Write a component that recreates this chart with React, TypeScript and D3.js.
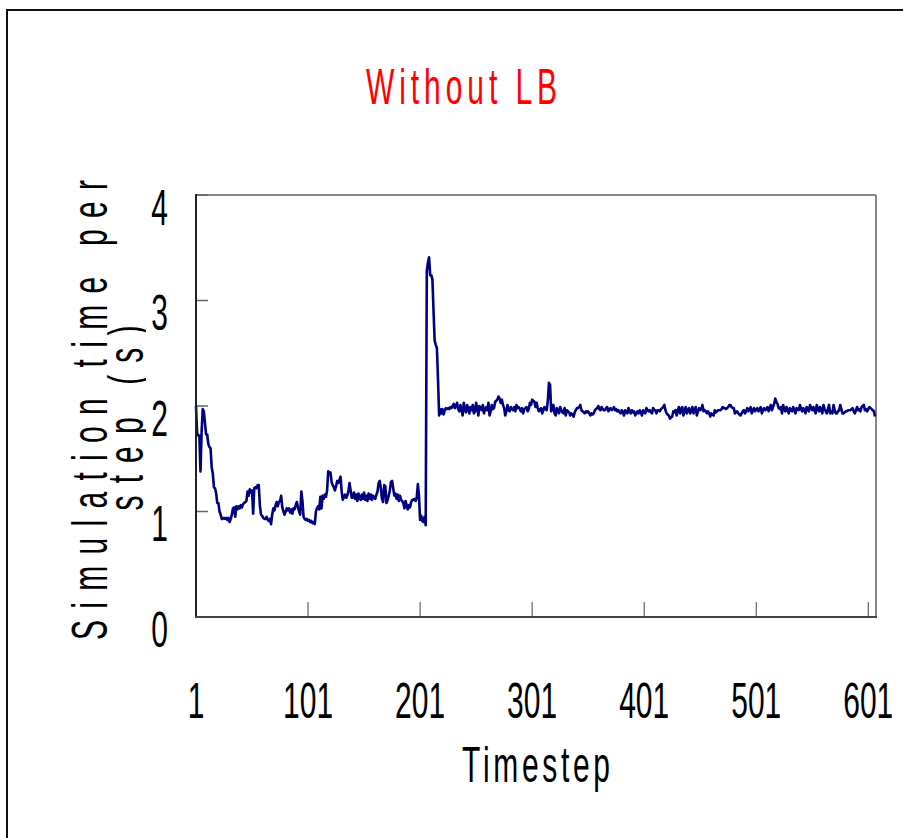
import React from "react";
import * as d3 from "d3";

// Simulation time per step (s), one value per timestep 1..607
const simTime: number[] = [
  2.00,1.74,1.72,1.72,1.38,1.75,1.97,1.95,1.84,1.73,
  1.73,1.64,1.61,1.60,1.42,1.36,1.23,1.22,1.17,1.08,
  1.08,1.00,0.97,0.93,0.93,0.94,0.93,0.94,0.92,0.94,
  0.90,0.93,0.97,1.03,1.04,0.95,1.05,1.02,1.05,1.03,
  1.06,1.04,1.07,1.08,1.09,1.10,1.19,1.15,1.21,1.18,
  1.20,0.98,1.22,1.23,1.22,1.25,1.25,1.06,0.97,0.96,
  0.94,0.93,0.93,0.95,0.92,0.91,0.93,0.88,0.97,1.03,
  1.01,1.06,1.09,1.05,1.09,1.10,1.15,1.04,1.00,0.97,
  1.00,1.03,1.01,1.03,0.99,1.02,0.98,1.03,1.02,1.06,
  1.09,1.04,1.00,0.97,1.19,1.10,0.95,0.93,0.92,0.93,
  0.91,0.92,0.90,0.91,0.89,0.90,0.88,1.00,1.03,1.05,
  1.02,1.14,1.03,1.15,1.12,1.16,1.14,1.20,1.38,1.36,
  1.37,1.28,1.25,1.23,1.20,1.24,1.29,1.27,1.30,1.33,
  1.19,1.11,1.14,1.16,1.13,1.15,1.19,1.27,1.20,1.13,
  1.13,1.18,1.12,1.16,1.10,1.17,1.13,1.11,1.16,1.12,
  1.18,1.11,1.15,1.10,1.17,1.12,1.16,1.11,1.15,1.13,
  1.12,1.16,1.19,1.27,1.29,1.22,1.12,1.09,1.25,1.24,
  1.08,1.11,1.15,1.20,1.28,1.29,1.22,1.15,1.17,1.12,
  1.16,1.10,1.15,1.11,1.10,1.08,1.03,1.10,1.06,1.02,
  1.06,1.04,1.09,1.11,1.11,1.12,1.10,1.13,1.26,1.15,
  0.92,0.96,0.91,0.90,0.95,0.87,3.28,3.36,3.41,3.24,
  3.24,3.20,2.90,2.62,2.58,2.55,2.25,1.91,1.97,1.93,
  1.97,1.92,1.96,1.98,1.97,1.98,1.97,1.99,1.98,2.00,
  2.02,1.98,2.00,2.03,1.97,1.95,2.01,1.96,1.91,2.03,
  1.97,1.94,2.01,1.98,1.93,1.99,1.96,2.01,1.93,1.95,
  2.03,1.98,1.91,2.00,1.98,1.96,2.01,1.93,1.97,1.99,
  1.96,2.03,1.91,1.95,2.01,1.97,1.98,2.04,2.05,2.06,
  2.09,2.07,2.03,2.06,2.01,1.98,1.91,1.95,2.01,1.96,
  1.95,1.99,1.97,1.96,1.99,1.95,2.01,1.98,1.99,1.97,
  1.95,1.98,1.93,1.97,1.98,1.99,1.95,1.97,2.03,2.01,
  2.06,2.05,2.04,1.99,2.03,1.98,1.95,1.97,1.98,1.93,
  1.96,1.99,1.97,1.96,2.05,2.22,2.20,1.95,1.97,2.01,
  1.93,1.91,1.98,1.96,1.93,1.99,1.96,1.94,1.93,1.98,
  1.91,1.96,1.95,1.94,1.91,1.93,1.92,1.90,1.94,1.96,
  1.98,1.98,1.99,2.01,1.96,1.95,1.94,1.93,1.95,1.94,
  1.95,1.93,1.91,1.93,1.92,1.93,1.96,1.97,1.98,2.00,
  1.97,1.96,1.99,1.97,1.96,1.96,1.98,1.99,1.95,1.97,
  1.98,1.96,1.97,1.99,1.96,1.97,1.95,1.96,1.94,1.93,
  1.96,1.94,1.91,1.96,1.94,1.93,1.98,1.95,1.93,1.96,
  1.94,1.95,1.91,1.93,1.95,1.93,1.96,1.94,1.91,1.96,
  1.94,1.93,1.98,1.96,1.95,1.96,1.94,1.93,1.98,1.96,
  1.96,1.93,1.96,1.96,1.95,1.97,1.98,1.99,2.01,1.96,
  1.93,1.92,1.91,1.88,1.89,1.90,1.95,1.94,1.96,1.91,
  1.96,1.99,1.93,1.97,1.99,1.91,1.95,1.99,1.93,1.96,
  1.98,1.93,1.95,1.99,1.93,1.96,1.99,1.91,1.95,1.98,
  1.96,1.97,2.01,1.95,1.96,1.95,1.93,1.95,1.93,1.90,
  1.93,1.92,1.91,1.96,1.94,1.95,1.96,1.96,1.96,1.97,
  1.99,1.98,1.98,1.97,1.98,1.99,2.01,2.01,1.99,1.98,
  1.98,1.93,1.94,1.95,1.93,1.92,1.91,1.93,1.95,1.96,
  1.93,1.95,1.98,1.95,1.97,1.99,1.93,1.96,1.98,1.95,
  1.97,1.98,1.95,1.97,1.99,1.93,1.96,1.98,1.96,1.97,
  1.99,1.95,1.98,2.01,1.96,1.99,2.02,2.07,2.04,2.02,
  1.98,1.97,1.99,1.93,2.01,1.97,1.95,1.99,1.96,1.93,
  1.98,1.96,1.95,1.99,1.96,1.93,1.98,1.97,1.96,2.01,
  1.97,1.95,1.98,1.96,1.93,1.99,1.97,1.95,2.01,1.98,
  1.96,1.99,1.96,1.93,2.01,1.97,1.95,1.99,1.96,1.93,
  2.01,1.97,1.95,1.93,1.97,2.01,1.93,1.95,1.93,2.01,
  1.96,1.93,1.93,1.95,1.96,2.01,1.97,1.93,1.93,1.94,
  1.95,1.95,1.96,1.96,1.96,1.97,1.98,1.95,1.93,1.96,
  1.99,1.96,1.97,1.95,1.99,2.00,2.01,1.96,1.97,1.95,
  1.97,1.99,1.98,1.97,1.96,1.95,1.90,
];

const xTickValues: number[] = [1, 101, 201, 301, 401, 501, 601];
const yTickValues: number[] = [0, 1, 2, 3, 4];
const titleText = "Without LB";
const xAxisTitle = "Timestep";
const yAxisTitleLines: string[] = ["Simulation time per", "step (s)"];

const FONT = "'Liberation Sans', Arial, Helvetica, sans-serif";
const SX = 0.6;
const FS = 50;

type CTProps = {
  x: number;
  y: number;
  text: string;
  anchor?: "start" | "middle" | "end";
  width?: number;
  rotate?: number;
  fill?: string;
};

function CText({ x, y, text, anchor = "middle", width, rotate = 0, fill = "#000" }: CTProps) {
  return (
    <text
      transform={`translate(${x},${y}) rotate(${rotate}) scale(${SX},1)`}
      textAnchor={anchor}
      fontFamily={FONT}
      fontSize={FS}
      fill={fill}
      {...(width ? { textLength: width / SX, lengthAdjust: "spacing" } : {})}
    >
      {text}
    </text>
  );
}

export default function App() {
  const W = 903;
  const H = 838;
  const left = 196;
  const right = 875;
  const top = 195;
  const bottom = 617;

  const x = d3.scaleLinear().domain([1, 607]).range([left, right]);
  const y = d3.scaleLinear().domain([0, 4]).range([bottom, top]);

  const line = d3
    .line<number>()
    .x((_, i) => x(i + 1))
    .y((d) => y(d));

  return (
    <svg
      width={W}
      height={H}
      style={{ position: "absolute", left: 0, top: 0, background: "#fff" }}
    >
      <defs>
        <clipPath id="ylabclip">
          <rect x={0} y={0} width={146} height={H} />
        </clipPath>
      </defs>
      <rect x={0} y={0} width={W} height={H} fill="#fff" />
      {/* outer chart frame */}
      <rect x={7} y={10} width={1000} height={1000} fill="none" stroke="#111" strokeWidth={2} />

      {/* title */}
      <CText x={461.5} y={104} text={titleText} fill="#ff0000" width={191} />

      {/* plot area border: top & right gray */}
      <line x1={left} x2={right + 1} y1={top} y2={top} stroke="#888" strokeWidth={2} />
      <line x1={right + 1} x2={right + 1} y1={top} y2={bottom} stroke="#888" strokeWidth={2} />

      {/* y ticks */}
      {yTickValues.map((t) => (
        <line key={"yt" + t} x1={left} x2={left + 12} y1={y(t)} y2={y(t)} stroke="#666" strokeWidth={1.5} />
      ))}
      {/* x ticks */}
      {xTickValues.map((t) => (
        <line key={"xt" + t} x1={x(t)} x2={x(t)} y1={bottom} y2={bottom - 15} stroke="#444" strokeWidth={1} />
      ))}

      {/* data line */}
      <path
        d={line(simTime) || ""}
        fill="none"
        stroke="#000080"
        strokeWidth={2.6}
        strokeLinejoin="round"
      />

      {/* axes lines */}
      <line x1={left} x2={left} y1={top - 1} y2={bottom + 1} stroke="#222" strokeWidth={2} />
      <line x1={left - 1} x2={right + 2} y1={bottom} y2={bottom} stroke="#444" strokeWidth={2} />

      {/* y tick labels */}
      {yTickValues.map((t) => (
        <CText key={"yl" + t} x={168} y={y(t) + 29.5} text={String(t)} anchor="end" />
      ))}
      {/* x tick labels */}
      {xTickValues.map((t) => (
        <CText key={"xl" + t} x={x(t)} y={718} text={String(t)} anchor="middle" />
      ))}

      {/* axis titles */}
      <CText x={536} y={782} text={xAxisTitle} width={148} />
      <CText x={107} y={410} text={yAxisTitleLines[0]} rotate={-90} width={460} />
      <g clipPath="url(#ylabclip)">
        <CText x={143} y={418} text={yAxisTitleLines[1]} rotate={-90} width={185} />
      </g>
    </svg>
  );
}
